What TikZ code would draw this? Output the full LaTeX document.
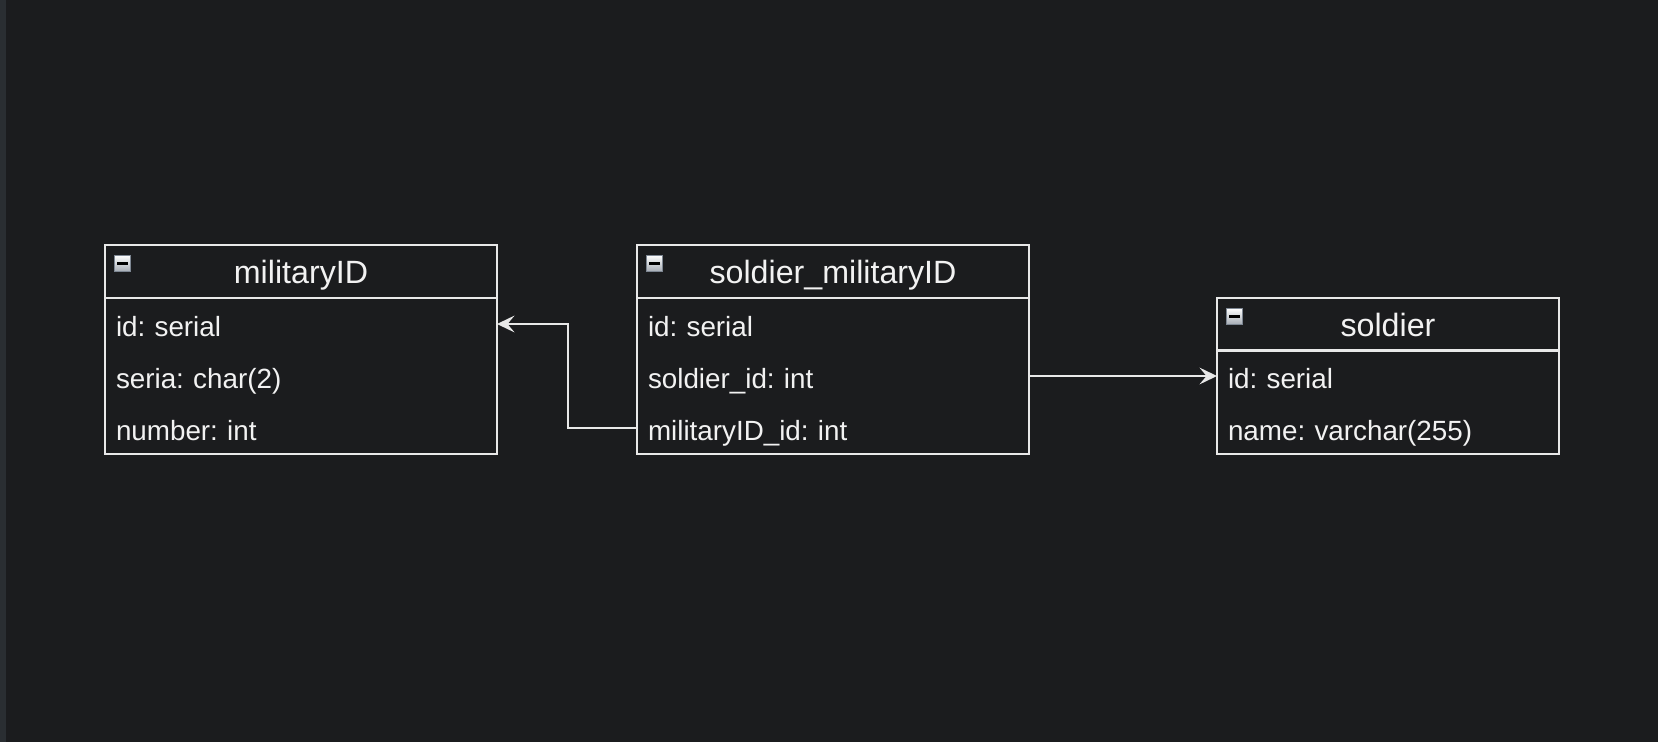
\documentclass[tikz,border=0pt]{standalone}
\usepackage{fontspec}
\setmainfont{Liberation Sans}
\usetikzlibrary{arrows.meta}
\definecolor{bgc}{HTML}{1B1C1E}
\definecolor{stripc}{HTML}{2A2E32}
\definecolor{linec}{HTML}{E8E8E8}
\definecolor{txtc}{HTML}{F2F2F2}
\definecolor{iconb}{HTML}{7D8692}
\frenchspacing
\begin{document}
\begin{tikzpicture}[x=0.5pt,y=-0.5pt,
  hdr/.style={draw=linec, line width=0.8pt, minimum width=#1, minimum height=26.5pt,
    inner sep=0pt, text=txtc, font=\fontsize{16.1pt}{18pt}\selectfont,
    text height=14pt, text depth=1.5pt, anchor=north west, outer sep=0pt},
  rowbox/.style={minimum height=26pt, text width=#1, inner xsep=5.5pt, inner ysep=0pt,
    align=left, text=txtc, font=\fontsize{13.9pt}{16pt}\selectfont,
    text height=15pt, text depth=2.3pt, anchor=north west, outer sep=0pt},
  tablebox/.style={draw=linec, line width=0.8pt},
  icon/.style={draw=iconb, line width=0.6pt, minimum size=8.2pt, inner sep=0pt,
    top color=white, bottom color=iconb!70},
  minus/.style={draw=black, line width=1.2pt},
  conn/.style={draw=linec, line width=0.9pt, -{Stealth[length=8.75pt,width=8.4pt,inset=3.5pt]}}
]
\useasboundingbox (0,0) rectangle (1658,742);
\fill[bgc] (0,0) rectangle (1658,742);
\fill[stripc] (0,0) rectangle (6,742);

% militaryID
\node[hdr=196pt] (mh) at (105,245) {militaryID};
\node[rowbox=185pt] (m1) at (105,298) {id: serial};
\node[rowbox=185pt] (m2) at (105,350) {seria: char(2)};
\node[rowbox=185pt] (m3) at (105,402) {number: int};
\draw[tablebox] (m1.north west) rectangle (m3.south east);
\node[icon] (mi) at (122.5,263.5) {};
\draw[minus] ([xshift=-2.6pt]mi.center) -- ([xshift=2.6pt]mi.center);

% soldier_militaryID
\node[hdr=196pt] (sh) at (637,245) {soldier\_militaryID};
\node[rowbox=185pt] (s1) at (637,298) {id: serial};
\node[rowbox=185pt] (s2) at (637,350) {soldier\_id: int};
\node[rowbox=185pt] (s3) at (637,402) {militaryID\_id: int};
\draw[tablebox] (s1.north west) rectangle (s3.south east);
\node[icon] (si) at (654.5,263.5) {};
\draw[minus] ([xshift=-2.6pt]si.center) -- ([xshift=2.6pt]si.center);

% soldier
\node[hdr=171pt] (oh) at (1217,298) {soldier};
\node[rowbox=160pt] (o1) at (1217,350) {id: serial};
\node[rowbox=160pt] (o2) at (1217,402) {name: varchar(255)};
\draw[tablebox] (o1.north west) rectangle (o2.south east);
\node[icon] (oi) at (1234.5,316.5) {};
\draw[minus] ([xshift=-2.6pt]oi.center) -- ([xshift=2.6pt]oi.center);

% connectors
\draw[conn] (s3.west) -- ++(-69,0) |- (m1.east);
\draw[conn] (s2.east) -- (o1.west);
\end{tikzpicture}
\end{document}
